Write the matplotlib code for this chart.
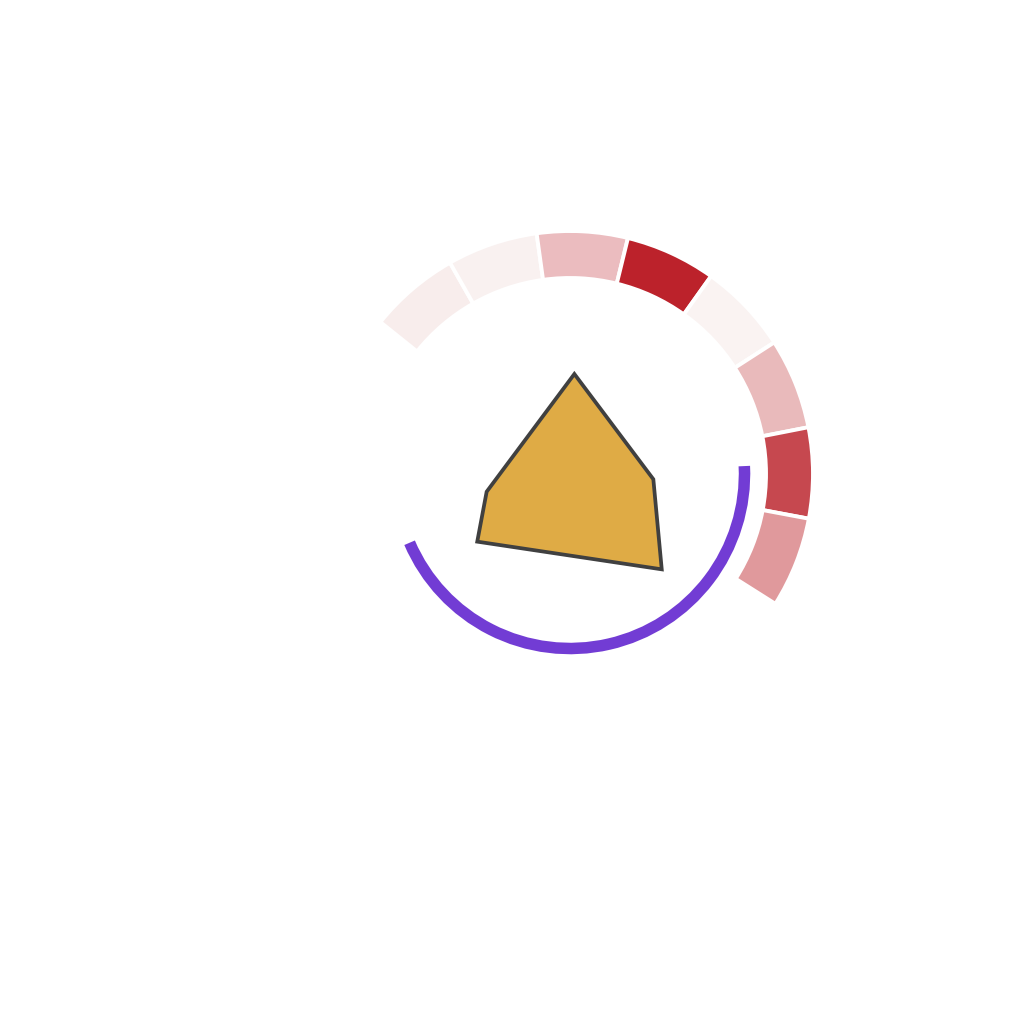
import numpy as np
import matplotlib
matplotlib.use("Agg")
import matplotlib.pyplot as plt

# outer ring segments: start angle (deg), span (deg), colour
seg_start = 141.3
seg_span = 21.7
seg_colors = ["#f8edec", "#f9f1f0", "#ebbcbf", "#bc222b",
              "#faf3f2", "#e9babb", "#c6484f", "#e0999c"]
ring_bottom = 196
ring_height = 47

# purple arc
arc_from = 203.2
arc_to = 362.6
arc_radius = 174.5
arc_thick = 11.5

# polygon (angle deg, radius)
poly_angles = [87.5, -3.6, -46.1, 216.1, 192.0]
poly_radii = [100.1, 83.5, 132.3, 114.8, 85.2]

fig = plt.figure(figsize=(10.24, 10.24), dpi=100)
R = 260
cx, cy = 570, 1024 - 474
ax = fig.add_axes([(cx - R) / 1024, (cy - R) / 1024, 2 * R / 1024, 2 * R / 1024],
                  projection="polar")
ax.set_theta_zero_location("E")
ax.set_ylim(0, R)
ax.axis("off")

# ring
n = len(seg_colors)
centers = np.radians([seg_start - seg_span * (i + 0.5) for i in range(n)])
ax.bar(centers, ring_height, width=np.radians(seg_span), bottom=ring_bottom,
       color=seg_colors, edgecolor="white", linewidth=2.8, align="center")

# purple arc
ax.bar(np.radians((arc_from + arc_to) / 2), arc_thick,
       width=np.radians(arc_to - arc_from), bottom=arc_radius - arc_thick / 2,
       color="#723cd4", linewidth=0)

# polygon
th = np.radians(poly_angles)
ax.fill(th, poly_radii, facecolor="#dfab45", edgecolor="#404040",
        linewidth=2.7, joinstyle="miter", zorder=3)

fig.savefig("out.png", dpi=100, facecolor="white")
